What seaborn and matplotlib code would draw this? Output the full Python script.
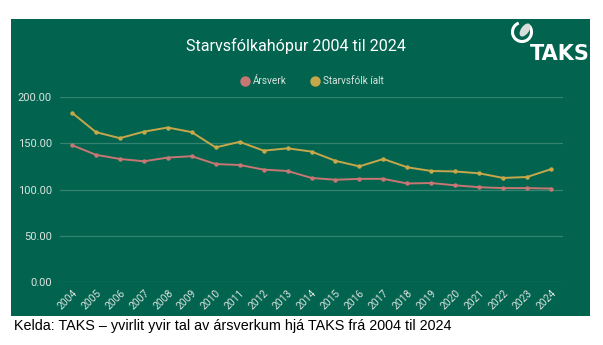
import numpy as np
import pandas as pd
import matplotlib
matplotlib.use("Agg")
import matplotlib.pyplot as plt
from matplotlib.patches import Rectangle, Arc, Ellipse
from matplotlib.lines import Line2D
import seaborn as sns

years = list(range(2004, 2025))
arsverk = [148, 137.5, 133, 130.5, 134.5, 136, 127.5, 126.5, 121.5, 120, 112.5,
           110.5, 111.5, 111.5, 106.5, 107, 104.5, 102.5, 101.5, 101.5, 101]
starvsfolk = [183, 162, 155.5, 162.5, 167, 162, 145.5, 151.5, 142, 144.5, 141,
              131, 125, 133, 124, 120, 119.5, 117.5, 112.5, 113.5, 122]
series_names = ["Ársverk", "Starvsfólk íalt"]
yticks = [0, 50, 100, 150, 200]

BG = "#02634f"
GRID = "#33836f"
TXT = "#d9e3df"
PINK = "#c87673"
GOLD = "#c6a74a"

df = pd.DataFrame({
    "Ár": years * 2,
    "Tal": arsverk + starvsfolk,
    "Røð": [series_names[0]] * len(years) + [series_names[1]] * len(years),
})

sns.set_theme(style="white")
plt.rcParams["font.family"] = ["Roboto", "DejaVu Sans"]

fig = plt.figure(figsize=(6.03, 3.45), dpi=100)
fig.patch.set_facecolor("white")
# green panel behind the chart
fig.patches.append(Rectangle((11 / 603, 1 - 316 / 345), 579 / 603, 297 / 345,
                             transform=fig.transFigure, facecolor=BG,
                             edgecolor="none", zorder=-10))

ax = fig.add_axes([60 / 603, 1 - 282 / 345, 503 / 603, 185 / 345])
ax.set_zorder(2)
ax.set_facecolor("none")
sns.lineplot(data=df, x="Ár", y="Tal", hue="Røð", palette=[PINK, GOLD],
             marker="o", markersize=3.2, markeredgewidth=0, linewidth=1.4,
             ax=ax, legend=False, clip_on=False)

ax.set_xlim(2003.5, 2024.5)
ax.set_ylim(0, 200)
ax.set_yticks(yticks)
ax.set_yticklabels([f"{v:.2f}" for v in yticks], color=TXT, fontsize=8)
ax.set_xticks(years)
ax.set_xticklabels([str(y) for y in years], rotation=45, ha="right",
                   rotation_mode="anchor", color=TXT, fontsize=7.4)
ax.tick_params(axis="both", length=0, pad=6)
ax.tick_params(axis="x", pad=4)
ax.grid(axis="y", color=GRID, linewidth=0.9)
ax.set_axisbelow(True)
for s in ax.spines.values():
    s.set_visible(False)
ax.set_xlabel("")
ax.set_ylabel("")

fig.text(296 / 603, 1 - 46 / 345, "Starvsfólkahópur 2004 til 2024",
         ha="center", va="center", color="white", fontsize=11.6)

handles = [Line2D([], [], marker="o", linestyle="none", markersize=7.5,
                  markerfacecolor=c, markeredgewidth=0) for c in (PINK, GOLD)]
fig.legend(handles, series_names, loc="center", ncol=2,
           bbox_to_anchor=(311 / 603, 1 - 81 / 345), frameon=False,
           fontsize=7.2, labelcolor=TXT, handletextpad=0.2, columnspacing=2.2,
           handlelength=1.2)

# TAKS logo
fig.patches.append(Arc((522, 345 - 32), 19, 19, theta1=110, theta2=400,
                       transform=None, color="white", linewidth=2.2, zorder=5))
fig.patches.append(Ellipse((525, 345 - 30), 8, 15, angle=-35, transform=None,
                           facecolor="#d7dedb", edgecolor="none", zorder=5))
fig.text(590 / 603, 1 - 54 / 345, "TAKS", ha="right", va="center",
         color="white", fontsize=15, fontweight="bold",
         family=["DejaVu Sans"])

fig.text(14 / 603, 1 - 326 / 345,
         "Kelda: TAKS – yvirlit yvir tal av ársverkum hjá TAKS frá 2004 til 2024",
         ha="left", va="center", color="black", fontsize=10.4,
         family=["Liberation Sans"])

fig.savefig("out.png", dpi=100, facecolor="white")
